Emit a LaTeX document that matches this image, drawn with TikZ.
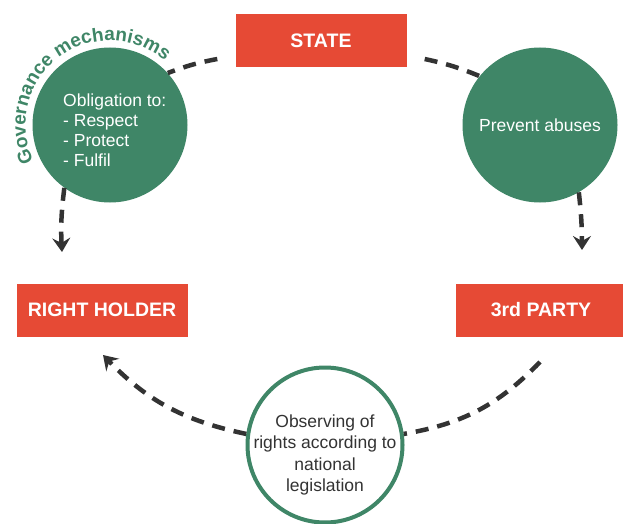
\documentclass[tikz,border=0pt]{standalone}
\usepackage{fontspec}
\setmainfont{Liberation Sans}
\usetikzlibrary{arrows.meta,decorations.text}
\definecolor{boxred}{HTML}{E64A35}
\definecolor{govgreen}{HTML}{3F8667}
\definecolor{lineg}{HTML}{333333}
\begin{document}
\begin{tikzpicture}[x=1pt,y=1pt,
  actor/.style={fill=boxred, text=white, font=\bfseries\fontsize{19.5}{23}\selectfont,
    minimum width=171pt, minimum height=53pt, inner sep=0pt},
  mech/.style={circle, fill=govgreen, minimum size=155pt, inner sep=0pt, text=white,
    font=\fontsize{17.5}{20}\selectfont},
  legal/.style={circle, draw=govgreen, line width=4pt, fill=white, minimum size=155pt, inner sep=0pt},
  conn/.style={draw=lineg, line width=4.5pt, dash pattern=on 13pt off 9pt},
  tipped/.style={-{Stealth[length=14pt,width=18pt,inset=5pt]}},
  body/.style={font=\fontsize{17.5}{20}\selectfont}
]
\useasboundingbox (0,0) rectangle (623,-524);
% boxes
\node[actor] (state) at (321,-41) {STATE};
\node[actor] (rh) at (102,-310) {RIGHT HOLDER};
\node[actor] (tp) at (541,-310) {3rd PARTY};
% circles
\node[mech] (gov) at (110,-125) {};
\node[mech] (prev) at (540,-125) {Prevent abuses};
\node[legal] (obs) at (325,-445) {};
% texts
\node[body, text=white, align=left, anchor=west, inner sep=0pt] (govtext) at (63,-130)
  {Obligation to:\\- Respect\\- Protect\\- Fulfil};
\node[body, text=lineg, align=center, inner sep=0pt, font=\fontsize{17.5}{21.5}\selectfont] (obstext) at (325,-455)
  {Observing of\\rights according to\\national\\legislation};
\path[decorate, decoration={text along path, text align=center, text color=govgreen,
  text={|\bfseries\fontsize{19}{22}\selectfont|Governance mechanisms}}]
  (gov.center) ++(207:84.5) arc (207:48:84.5);
% free ends
\coordinate (rhin) at (62,-252);
\coordinate (tpin) at (582,-250);
\coordinate (rhin2) at (103,-355);
\coordinate (tpout) at (540,-362);
% connectors
\draw[conn] ([shift={(-18pt,-18pt)}]state.west) to[bend right=5] (gov.42);
\draw[conn] ([shift={(18pt,-18pt)}]state.east) to[bend left=5] (prev.141);
\draw[conn, tipped] (gov.234) to[bend right=5] (rhin);
\draw[conn, tipped] (prev.300) to[bend left=3] (tpin);
\draw[conn, tipped] (obs.172) to[bend left=17] (rhin2);
\draw[conn] (tpout) to[bend left=18] (obs.8);
\end{tikzpicture}
\end{document}
